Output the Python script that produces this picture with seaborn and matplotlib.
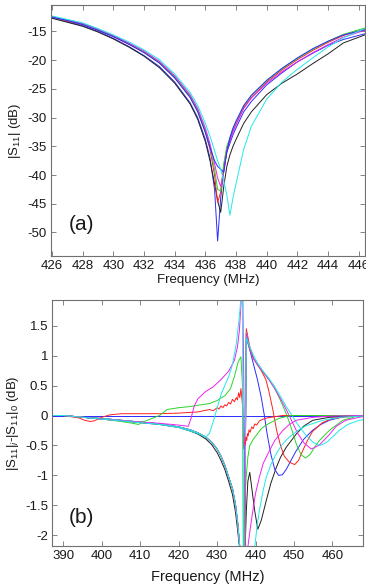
import matplotlib
matplotlib.use("Agg")
import matplotlib.pyplot as plt
import pandas as pd
import seaborn as sns

# ---------------- Panel (a): |S11| (dB) vs frequency (MHz) ----------------
FREQ_A = [426, 427, 428, 429, 430, 431, 432, 433, 434, 435, 435.5, 436, 436.3, 436.6,
          436.8, 437.0, 437.2, 437.4, 437.6, 437.8, 438.0, 438.5, 439, 440, 441, 442,
          443, 444, 445, 446.4]
S11_BLUE1 = [-12.6, -13.3, -14.0, -15.0, -16.2, -17.6, -19.2, -21.1, -23.8, -27.4, -30.0,
             -33.8, -37.0, -42.5, -51.5, -44.0, -39.0, -36.0, -34.5, -33.0, -31.8, -29.0,
             -27.2, -24.3, -22.2, -20.3, -18.8, -17.4, -16.4, -15.4]
S11_BLACK = [-12.7, -13.4, -14.1, -15.1, -16.3, -17.7, -19.3, -21.3, -24.0, -27.6, -30.3,
             -34.2, -37.5, -41.5, -44.5, -46.5, -42.0, -38.5, -36.5, -35.0, -33.8, -31.0,
             -29.0, -26.0, -24.0, -22.4, -20.6, -18.9, -17.0, -15.6]
S11_RED = [-12.5, -13.2, -13.8, -14.8, -15.9, -17.2, -18.6, -20.4, -23.0, -26.3, -28.8,
           -32.5, -35.5, -40.0, -44.8, -43.0, -38.5, -35.5, -33.8, -32.3, -31.2, -28.3,
           -26.5, -23.8, -21.7, -19.9, -18.3, -16.9, -15.7, -14.6]
S11_GREEN = [-12.5, -13.1, -13.7, -14.7, -15.8, -17.1, -18.5, -20.3, -22.9, -26.2, -28.6,
             -32.2, -35.0, -39.0, -42.5, -42.8, -38.0, -35.0, -33.5, -32.0, -30.8, -28.0,
             -26.2, -23.6, -21.5, -19.7, -18.1, -16.7, -15.5, -14.4]
S11_MAGENTA = [-12.4, -13.0, -13.6, -14.6, -15.7, -17.0, -18.4, -20.2, -22.7, -26.0, -28.4,
               -31.8, -34.5, -38.0, -40.5, -42.0, -39.5, -35.8, -34.0, -32.5, -31.2, -28.4,
               -26.6, -24.0, -22.0, -20.3, -18.7, -17.3, -16.0, -14.8]
S11_BLUE2 = [-12.5, -13.1, -13.8, -14.8, -15.9, -17.2, -18.7, -20.5, -23.1, -26.5, -29.0,
             -32.6, -35.2, -37.5, -38.5, -39.0, -39.5, -36.0, -33.5, -31.8, -30.6, -27.9,
             -26.1, -23.5, -21.4, -19.6, -18.0, -16.7, -15.6, -14.7]
S11_CYAN = [-12.3, -12.9, -13.5, -14.5, -15.6, -16.8, -18.2, -19.9, -22.4, -25.6, -27.9,
            -31.0, -33.2, -35.8, -37.5, -39.0, -41.0, -43.5, -47.0, -44.0, -41.5, -35.5,
            -31.5, -26.8, -23.8, -21.6, -19.6, -17.7, -16.1, -14.5]

# ---------------- Panel (b): |S11|i - |S11|0 (dB) vs frequency (MHz) ----------------
REF_F = [387, 468]
REF_V = [0, 0]

BUNDLE_F = [387, 390, 395, 400, 405, 410, 415, 420, 423, 425, 427, 428.5, 430, 431, 432, 433,
            434, 434.8, 435.4, 435.9, 436.3]
BUNDLE_V = [0, 0, -0.03, -0.05, -0.08, -0.11, -0.14, -0.19, -0.24, -0.29, -0.36, -0.44, -0.56,
            -0.68, -0.83, -1.03, -1.22, -1.5, -1.82, -2.2, -2.6]
BLACK_LEFT_V = [0, 0, -0.03, -0.06, -0.09, -0.12, -0.15, -0.2, -0.26, -0.31, -0.39, -0.48, -0.62,
                -0.75, -0.9, -1.1, -1.32, -1.62, -1.95, -2.25, -2.6]

BLUE_R_F = [437.1, 437.6, 438.5, 439.5, 440.5, 441.5, 442.3, 443, 444, 445, 446, 447, 448, 449,
            450.5, 452.5, 454.8, 457, 459.2, 463.5, 468]
BLUE_R_V = [-2.6, 1.3, 1.1, 0.85, 0.6, 0.3, 0.0, -0.3, -0.65, -0.9, -1.0, -0.99, -0.9, -0.78,
            -0.6, -0.4, -0.25, -0.15, -0.08, -0.01, 0]
RED_R_F = [437.1, 437.6, 438.5, 439.5, 440.5, 441.5, 442.7, 443.5, 444.5, 445.5, 446.5, 447.5,
           448.8, 450.2, 451.2, 452.2, 453.5, 454.8, 457.4, 460, 464.3, 468]
RED_R_V = [-2.6, 1.45, 1.15, 0.95, 0.85, 0.75, 0.6, 0.4, 0.1, -0.25, -0.5, -0.68, -0.78, -0.82,
           -0.75, -0.6, -0.42, -0.27, -0.12, -0.05, -0.02, 0]
GREEN_R_F = [437.1, 437.6, 438.5, 439.5, 440.5, 442, 443.5, 445, 446, 447, 448, 449, 450.6,
             451.8, 453, 454.2, 455.5, 456.6, 459.2, 462.7, 466, 468]
GREEN_R_V = [-2.6, 1.4, 1.1, 0.95, 0.85, 0.72, 0.6, 0.45, 0.32, 0.18, 0.03, -0.15, -0.47,
             -0.65, -0.71, -0.65, -0.52, -0.42, -0.25, -0.08, -0.02, 0]
MAGENTA_R_F = [437.1, 437.6, 438.5, 439.5, 440.5, 442, 443.5, 445, 446.5, 448, 449.5, 451,
               452.5, 454.5, 456.5, 458, 459.2, 461, 463.5, 467, 468]
MAGENTA_R_V = [-2.6, 1.38, 1.1, 0.95, 0.85, 0.72, 0.6, 0.45, 0.28, 0.1, -0.1, -0.3, -0.45,
               -0.56, -0.5, -0.4, -0.32, -0.18, -0.08, -0.03, -0.02]
CYAN_R_F = [437.1, 437.6, 438.5, 439.5, 440.5, 442, 443.5, 445, 446.5, 448, 449.5, 451, 453,
            455, 456.8, 458.5, 460, 461.8, 464, 467, 468]
CYAN_R_V = [-2.6, 1.3, 1.15, 1.0, 0.88, 0.74, 0.62, 0.48, 0.32, 0.15, 0.0, -0.15, -0.32,
            -0.45, -0.5, -0.45, -0.36, -0.25, -0.15, -0.08, -0.07]
BLACK_R_F = [437.1, 437.6, 438.0, 438.5, 439.0, 439.8, 440.6, 441.5, 442.8, 444, 445.4, 446.5,
             448, 450.6, 452.5, 454.9, 459.2, 468]
BLACK_R_V = [-2.6, -1.6, -1.1, -0.95, -1.2, -1.6, -1.9, -1.75, -1.42, -1.13, -0.87, -0.7,
             -0.53, -0.31, -0.18, -0.08, -0.03, 0]

RED_A_F = [387, 390, 392, 394, 395.5, 397, 398, 399, 400, 402, 405, 410, 415, 420, 425, 428,
           429, 430, 430.5, 431, 431.5, 432, 432.5, 433, 433.5, 434, 434.5, 435, 435.3, 435.6,
           435.9, 436.2, 436.5, 436.7, 436.9, 437.1, 437.3, 437.5, 437.7, 437.9, 438.1, 438.3,
           438.6, 439, 439.4, 439.8, 440.3, 441, 442, 443, 445, 447, 455, 468]
RED_A_V = [0, 0, -0.02, -0.04, -0.08, -0.1, -0.09, -0.06, -0.03, 0.01, 0.03, 0.03, 0.03, 0.04,
           0.06, 0.1, 0.08, 0.13, 0.11, 0.16, 0.13, 0.18, 0.16, 0.22, 0.19, 0.27, 0.23, 0.3,
           0.26, 0.38, 0.3, 0.45, 0.25, 0.1, -0.55, -0.45, -0.5, -0.36, -0.42, -0.3, -0.34,
           -0.24, -0.28, -0.19, -0.22, -0.14, -0.16, -0.09, -0.06, -0.04, -0.02, 0, 0, 0]
GREEN_A_F = [387, 390, 395, 400, 405, 408, 409.5, 411, 413, 415, 417, 420, 423, 425, 428, 430,
             432, 433.5, 434.5, 435.5, 436.2, 436.6, 436.9, 437.2, 437.4, 437.6, 437.8, 438.0,
             438.2, 438.5, 438.8, 439.2, 439.6, 440.2, 440.8, 441.5, 442.5, 443.6, 446, 449, 468]
GREEN_A_V = [0, 0, -0.03, -0.06, -0.1, -0.13, -0.15, -0.1, -0.05, 0.0, 0.1, 0.13, 0.15, 0.17,
             0.2, 0.25, 0.33, 0.45, 0.65, 0.9, 0.98, 0.5, -2.6, -1.5, -1.2, -1.0, -0.85, -0.7,
             -0.62, -0.5, -0.47, -0.42, -0.38, -0.33, -0.28, -0.22, -0.17, -0.13, -0.05, 0, 0]
MAGENTA_A_F = [387, 390, 400, 410, 415, 420, 422.5, 423.2, 424, 425, 427, 429, 431, 433, 434.5,
               435.3, 435.8, 436.3, 436.6, 437.5, 438, 438.6, 439.3, 440, 441, 442, 443.6, 445,
               447.1, 448.8, 450.6, 455, 460, 468]
MAGENTA_A_V = [0, 0, -0.06, -0.11, -0.13, -0.16, -0.18, -0.05, 0.15, 0.28, 0.4, 0.48, 0.6,
               0.74, 0.92, 1.15, 1.42, 1.95, 2.5, -2.6, -2.2, -1.9, -1.59, -1.3, -1.03, -0.8,
               -0.59, -0.42, -0.25, -0.15, -0.08, -0.03, -0.01, 0]
CYAN_A_F = [387, 390, 400, 410, 415, 420, 425, 427, 428, 429, 430, 431, 432, 433, 434, 435,
            435.7, 436.2, 436.6, 436.8, 438.5, 439.8, 440.4, 441, 442, 442.8, 444, 445.4, 447,
            448.8, 451, 453.2, 457.5, 462, 468]
CYAN_A_V = [0, 0, -0.06, -0.12, -0.15, -0.2, -0.3, -0.36, -0.3, -0.1, 0.12, 0.35, 0.5, 0.65,
            0.85, 1.2, 1.6, 1.95, 2.5, -2.6, -2.5, -2.2, -1.85, -1.59, -1.25, -1.03, -0.82,
            -0.64, -0.48, -0.36, -0.25, -0.17, -0.08, -0.03, -0.01]

COL = {"b": "#2b2bff", "r": "#ff2020", "g": "#2ad42a", "m": "#ee22ee", "c": "#22e8e8",
       "k": "#202020"}

top_series = [("a_blue1", FREQ_A, S11_BLUE1, COL["b"]),
              ("a_black", FREQ_A, S11_BLACK, COL["k"]),
              ("a_red", FREQ_A, S11_RED, COL["r"]),
              ("a_green", FREQ_A, S11_GREEN, COL["g"]),
              ("a_magenta", FREQ_A, S11_MAGENTA, COL["m"]),
              ("a_blue2", FREQ_A, S11_BLUE2, COL["b"]),
              ("a_cyan", FREQ_A, S11_CYAN, COL["c"])]

bot_series = [("ref", REF_F, REF_V, COL["b"]),
              ("b_black", BUNDLE_F + BLACK_R_F, BLACK_LEFT_V + BLACK_R_V, COL["k"]),
              ("b_blue", BUNDLE_F + BLUE_R_F, BUNDLE_V + BLUE_R_V, COL["b"]),
              ("b_red", BUNDLE_F + RED_R_F, BUNDLE_V + RED_R_V, COL["r"]),
              ("b_green", BUNDLE_F + GREEN_R_F, BUNDLE_V + GREEN_R_V, COL["g"]),
              ("b_magenta", BUNDLE_F + MAGENTA_R_F, BUNDLE_V + MAGENTA_R_V, COL["m"]),
              ("b_cyan", BUNDLE_F + CYAN_R_F, BUNDLE_V + CYAN_R_V, COL["c"]),
              ("b_redA", RED_A_F, RED_A_V, COL["r"]),
              ("b_greenA", GREEN_A_F, GREEN_A_V, COL["g"]),
              ("b_magentaA", MAGENTA_A_F, MAGENTA_A_V, COL["m"]),
              ("b_cyanA", CYAN_A_F, CYAN_A_V, COL["c"])]


def to_frame(series):
    rows = []
    for name, f, v, _ in series:
        for x, y in zip(f, v):
            rows.append({"series": name, "freq": x, "val": y})
    return pd.DataFrame(rows)


sns.set_style("ticks")
plt.rcParams["font.family"] = ["Liberation Sans", "DejaVu Sans"]
plt.rcParams["mathtext.fontset"] = "custom"
plt.rcParams["mathtext.rm"] = "Liberation Sans"
plt.rcParams["mathtext.it"] = "Liberation Sans:italic"

fig = plt.figure(figsize=(3.66, 5.85), dpi=100)
ax1 = fig.add_axes([0.139, 0.5624, 0.858, 0.429])
ax2 = fig.add_axes([0.143, 0.0667, 0.849, 0.4205])

TEXT = "#1a1a1a"
SPINE = "#707070"

df1 = to_frame(top_series)
sns.lineplot(data=df1, x="freq", y="val", hue="series",
             palette={n: c for n, _, _, c in top_series},
             hue_order=[s[0] for s in top_series],
             estimator=None, sort=False, linewidth=0.7, legend=False, ax=ax1)

df2 = to_frame(bot_series)
sns.lineplot(data=df2, x="freq", y="val", hue="series",
             palette={n: c for n, _, _, c in bot_series},
             hue_order=[s[0] for s in bot_series],
             estimator=None, sort=False, linewidth=0.7, legend=False, ax=ax2)

ax1.set_xlim(425.93, 446.4)
ax1.set_ylim(-54.1, -10.4)
ax1.set_xticks(list(range(426, 447, 2)))
ax1.set_yticks([-50, -45, -40, -35, -30, -25, -20, -15])
ax1.set_xlabel("Frequency (MHz)", fontsize=9.5, color=TEXT, labelpad=1.5)
ax1.set_ylabel("|S$_{11}$| (dB)", fontsize=9.5, color=TEXT, labelpad=3)
ax1.text(427.9, -48.7, "(a)", fontsize=15, color=TEXT, ha="center", va="center")

ax2.set_xlim(387.1, 468.0)
ax2.set_ylim(-2.18, 1.93)
ax2.set_xticks(list(range(390, 461, 10)))
ax2.set_yticks([-2, -1.5, -1, -0.5, 0, 0.5, 1, 1.5])
ax2.set_xlabel("Frequency (MHz)", fontsize=10.5, color=TEXT, labelpad=6)
ax2.set_ylabel("|S$_{11}$|$_{i}$-|S$_{11}$|$_{0}$ (dB)", fontsize=9.5, color=TEXT, labelpad=3)
ax2.text(394.6, -1.71, "(b)", fontsize=15, color=TEXT, ha="center", va="center")

for ax in (ax1, ax2):
    ax.set_facecolor("white")
    for s in ax.spines.values():
        s.set_visible(True)
        s.set_color(SPINE)
        s.set_linewidth(0.8)
    ax.tick_params(direction="in", length=3.5, width=0.6, color=SPINE,
                   top=True, right=True, labelsize=9.5, labelcolor=TEXT, pad=3)

ax1.set_yticklabels([str(v) for v in [-50, -45, -40, -35, -30, -25, -20, -15]])
ax2.set_yticklabels(["-2", "-1.5", "-1", "-0.5", "0", "0.5", "1", "1.5"])

fig.savefig("out.png", dpi=100, facecolor="white")
